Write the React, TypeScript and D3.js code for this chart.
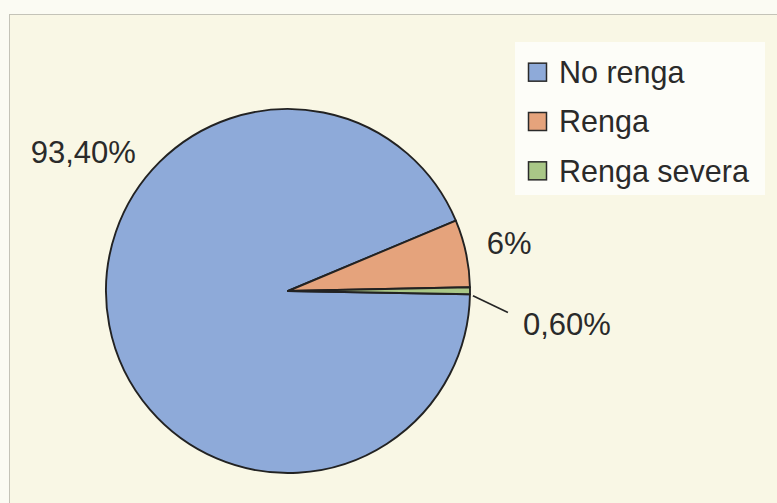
import React from "react";
import * as d3 from "d3";

const categories = ["No renga", "Renga", "Renga severa"];
const values = [93.4, 6, 0.6];
const labels = ["93,40%", "6%", "0,60%"];
const colors = ["#8eaad9", "#e5a37c", "#a9c787"];

const W = 777;
const H = 503;

export default function App() {
  const cx = 288;
  const cy = 291;
  const r = 182;
  const rad = (deg: number) => (deg * Math.PI) / 180;
  const startDeg = 91;

  const pie = d3
    .pie<number>()
    .sort(null)
    .value((d) => d)
    .startAngle(rad(startDeg))
    .endAngle(rad(startDeg + 360));
  const arcs = pie(values);
  const arc = d3.arc<d3.PieArcDatum<number>>().innerRadius(0).outerRadius(r);

  const polar = (deg: number, rr: number): [number, number] => [
    cx + rr * Math.sin(rad(deg)),
    cy - rr * Math.cos(rad(deg)),
  ];

  // label placement (angle clockwise from 12 o'clock, radius)
  const labelAngles = [304, 78, 97];
  const labelRadii = [247, 226, 281];

  const leaderStart = polar(91.5, r + 3);
  const leaderEnd = polar(95.6, 221);

  const legendY = d3
    .scaleBand<string>()
    .domain(categories)
    .range([48, 196])
    .padding(0);

  const font = "'Liberation Sans', Arial, Helvetica, sans-serif";

  return (
    <svg
      width={W}
      height={H}
      style={{ position: "absolute", left: 0, top: 0, display: "block" }}
    >
      <rect x={0} y={0} width={W} height={H} fill="#fbfbf3" />
      <rect
        x={9.5}
        y={14.5}
        width={W}
        height={H}
        fill="#f9f7e5"
        stroke="#c4c3b8"
        strokeWidth={1}
      />
      <g transform={`translate(${cx},${cy})`}>
        {arcs.map((a, i) => (
          <path
            key={i}
            d={arc(a) || ""}
            fill={colors[i]}
            stroke="#222222"
            strokeWidth={1.9}
            strokeLinejoin="round"
          />
        ))}
      </g>
      <line
        x1={leaderStart[0]}
        y1={leaderStart[1]}
        x2={leaderEnd[0]}
        y2={leaderEnd[1]}
        stroke="#252525"
        strokeWidth={1.6}
      />
      {labels.map((t, i) => {
        const [x, y] = polar(labelAngles[i], labelRadii[i]);
        return (
          <text
            key={i}
            x={x}
            y={y}
            dy="0.33em"
            textAnchor="middle"
            fontFamily={font}
            fontSize={31}
            fill="#2a2a2a"
          >
            {t}
          </text>
        );
      })}
      <rect x={515} y={42} width={250} height={153} fill="#fdfdf8" />
      {categories.map((c, i) => {
        const yc = (legendY(c) as number) + legendY.bandwidth() / 2 - 0.5;
        return (
          <g key={c}>
            <rect
              x={528.5}
              y={yc - 9}
              width={18}
              height={18}
              fill={colors[i]}
              stroke="#2a2a2a"
              strokeWidth={1.5}
            />
            <text
              x={559}
              y={yc}
              dy="0.35em"
              fontFamily={font}
              fontSize={30.5}
              fill="#2a2a2a"
            >
              {c}
            </text>
          </g>
        );
      })}
    </svg>
  );
}
